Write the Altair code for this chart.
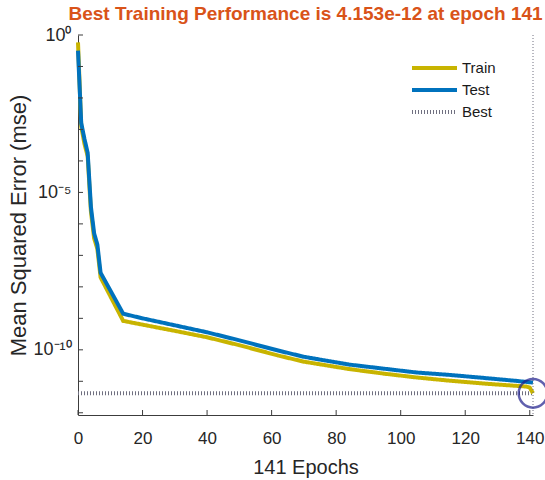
import altair as alt
import pandas as pd

# ---- data ----
train_epochs = [0, 1, 2, 3, 4, 5, 6, 7, 14, 20, 30, 40, 50, 62, 70, 84, 95, 105, 115, 127, 139, 140, 141]
train_mse = [5.8e-1, 1.26e-3, 3.5e-4, 1.4e-4, 2.5e-6, 3.5e-7, 1.6e-7, 2.0e-8, 8.3e-10, 6.3e-10,
             4.0e-10, 2.5e-10, 1.4e-10, 6.6e-11, 4.2e-11, 2.45e-11, 1.74e-11, 1.32e-11, 1.05e-11,
             8.3e-12, 6.8e-12, 6.3e-12, 4.153e-12]
test_epochs = [0, 1, 2, 3, 4, 5, 6, 7, 14, 20, 30, 40, 50, 62, 70, 84, 95, 105, 115, 125, 135, 141]
test_mse = [3.2e-1, 1.6e-3, 5.0e-4, 1.8e-4, 3.5e-6, 5.0e-7, 2.2e-7, 2.8e-8, 1.4e-9, 1.0e-9,
            6.0e-10, 3.6e-10, 2.0e-10, 9.5e-11, 6.0e-11, 3.4e-11, 2.5e-11, 1.9e-11, 1.6e-11,
            1.3e-11, 1.05e-11, 9.1e-12]
best_epoch = 141
best_mse = 4.153e-12
best_line_epochs = [0, 141]

series_names = ["Train", "Test", "Best"]
series_colors = ["#C8B400", "#0072BD", "#707080"]
series_widths = [4, 4, 1]
series_dashes = [[1, 0], [1, 0], [1, 2]]

x_ticks = [0, 20, 40, 60, 80, 100, 120, 140]
y_ticks = [1e0, 1e-1, 1e-2, 1e-3, 1e-4, 1e-5, 1e-6, 1e-7, 1e-8, 1e-9, 1e-10, 1e-11, 1e-12]
y_domain = [8.5e-13, 1.0]
x_domain = [0, 141]

title_text = "Best Training Performance is 4.153e-12 at epoch 141"
x_title = "141 Epochs"
y_title = "Mean Squared Error  (mse)"

W, H = 455, 380
FONT = "Liberation Sans, Arial, sans-serif"
AX = "#3C3C3C"
TXT = "#262626"

train_df = pd.DataFrame({"epoch": train_epochs, "mse": train_mse, "series": "Train"})
test_df = pd.DataFrame({"epoch": test_epochs, "mse": test_mse, "series": "Test"})
best_df = pd.DataFrame({"epoch": best_line_epochs, "mse": [best_mse] * len(best_line_epochs), "series": "Best"})
best_pt = pd.DataFrame({"epoch": [best_epoch], "mse": [best_mse]})
yt_df = pd.DataFrame({"mse": y_ticks})
xt_df = pd.DataFrame({"epoch": x_ticks})

xscale = alt.Scale(domain=x_domain, nice=False, zero=False)
yscale = alt.Scale(type="log", domain=y_domain, nice=False)

label_expr = ("abs(log(datum.value)/LN10) < 0.01 ? '10⁰' : "
              "(abs(log(datum.value)/LN10 + 5) < 0.01 ? '10⁻⁵' : "
              "(abs(log(datum.value)/LN10 + 10) < 0.01 ? '10⁻¹⁰' : ''))")

X_AXIS = alt.Axis(
    values=x_ticks, title=x_title, grid=False, tickSize=0, domainColor=AX, domainWidth=1,
    labelFont=FONT, labelFontSize=17, labelColor=TXT, labelPadding=15, labelBaseline="top",
    labelFlush=False,
    titleFont=FONT, titleFontSize=20, titleFontWeight="normal", titleColor=TXT,
    titleY=58, titleBaseline="alphabetic")
Y_AXIS = alt.Axis(
    values=y_ticks, labelExpr=label_expr, title=y_title, grid=False, tickSize=0,
    domainColor=AX, domainWidth=1, labelFont=FONT, labelFontSize=18, labelColor=TXT,
    labelPadding=7, labelFlush=False, titleFont=FONT, titleFontSize=22, titleFontWeight="normal",
    titleColor=TXT, titleX=-70, titleBaseline="top")

def xe():
    return alt.X("epoch:Q", scale=xscale, axis=X_AXIS)

def ye():
    return alt.Y("mse:Q", scale=yscale, axis=Y_AXIS)

LEG = dict(title=None, orient="none", legendX=332, legendY=25, symbolType="stroke",
           symbolSize=2025, clipHeight=16, labelFont=FONT, labelFontSize=15,
           labelColor="#1A1A1A", labelOffset=3, rowPadding=6, padding=0)

color_enc = alt.Color("series:N", scale=alt.Scale(domain=series_names, range=series_colors),
                      legend=alt.Legend(**LEG))
dash_enc = alt.StrokeDash("series:N", scale=alt.Scale(domain=series_names, range=series_dashes),
                          legend=alt.Legend(**LEG))
width_enc = alt.StrokeWidth("series:N", scale=alt.Scale(domain=series_names, range=series_widths),
                            legend=alt.Legend(**LEG))

def series_layer(df):
    return alt.Chart(df).mark_line().encode(
        x=xe(), y=ye(), color=color_enc, strokeDash=dash_enc, strokeWidth=width_enc)

best_layer = series_layer(best_df)
train_layer = series_layer(train_df)
test_layer = series_layer(test_df)

vrule = alt.Chart(best_pt).mark_rule(color="#707080", strokeWidth=1, strokeDash=[1, 2]).encode(
    x=xe(), y=alt.value(0), y2=alt.value(H))

ytick_layer = alt.Chart(yt_df).mark_rule(color=AX, strokeWidth=1).encode(
    y=ye(), x=alt.value(0), x2=alt.value(5))
xtick_layer = alt.Chart(xt_df).mark_rule(color=AX, strokeWidth=1).encode(
    x=xe(), y=alt.value(H), y2=alt.value(H - 5))

circle = alt.Chart(best_pt).mark_point(shape="circle", filled=False, size=820, strokeWidth=2.5,
                                       color="#1E1E8C", clip=False).encode(x=xe(), y=ye())

chart = alt.layer(best_layer, train_layer, test_layer, vrule, ytick_layer, xtick_layer, circle).properties(
    width=W, height=H,
    title=alt.TitleParams(title_text, font=FONT, fontSize=19, fontWeight="bold", color="#D95319",
                          anchor="middle", offset=2),
    autosize=alt.AutoSizeParams(type="none"),
    padding={"left": 78, "top": 35, "right": 12, "bottom": 65},
).configure(background="white").configure_view(stroke=None)

chart.save("out.html", embed_options={"renderer": "svg", "actions": False})
